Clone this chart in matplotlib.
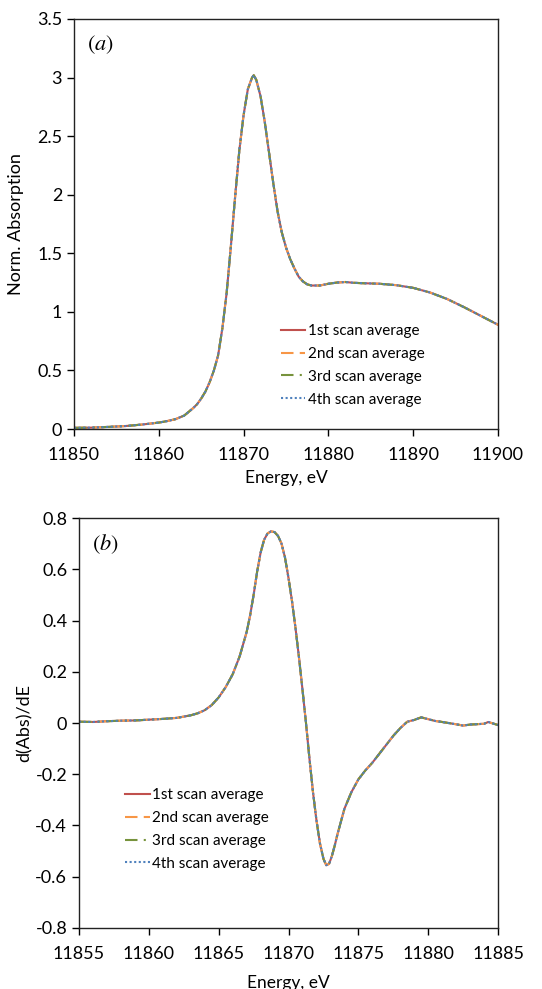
import matplotlib
matplotlib.use("Agg")
import matplotlib.pyplot as plt

plt.rcParams['font.family'] = ['Lato', 'DejaVu Sans']
plt.rcParams['mathtext.fontset'] = 'stix'

# ---- Panel (a): normalized absorption ----
energy_a = [11850, 11852, 11854, 11856, 11858, 11860, 11861, 11862, 11863, 11864,
            11864.5, 11865, 11865.5, 11866, 11866.5, 11867, 11867.5, 11868, 11868.5,
            11869, 11869.5, 11870, 11870.5, 11871, 11871.2, 11871.5, 11872, 11872.5,
            11873, 11873.5, 11874, 11874.5, 11875, 11875.5, 11876, 11876.5, 11877,
            11877.5, 11878, 11879, 11880, 11881, 11882, 11883, 11884, 11886, 11888,
            11890, 11892, 11894, 11896, 11898, 11900]
absorb = [0.01, 0.012, 0.018, 0.025, 0.038, 0.055, 0.068, 0.085, 0.115, 0.175,
          0.21, 0.26, 0.32, 0.40, 0.50, 0.63, 0.86, 1.16, 1.56,
          1.98, 2.38, 2.68, 2.90, 3.00, 3.02, 2.98, 2.84, 2.62,
          2.36, 2.10, 1.86, 1.68, 1.55, 1.45, 1.37, 1.30, 1.26,
          1.235, 1.225, 1.225, 1.24, 1.25, 1.255, 1.248, 1.245, 1.24, 1.228,
          1.205, 1.165, 1.11, 1.04, 0.965, 0.89]

# ---- Panel (b): first derivative ----
energy_b = [11855, 11856, 11857, 11858, 11859, 11860, 11861, 11862, 11863, 11863.5,
            11864, 11864.5, 11865, 11865.5, 11866, 11866.5, 11867, 11867.25, 11867.5,
            11867.75, 11868, 11868.25, 11868.5, 11868.75, 11869, 11869.25, 11869.5,
            11869.75, 11870, 11870.25, 11870.5, 11870.75, 11871, 11871.25, 11871.5,
            11871.75, 11872, 11872.25, 11872.5, 11872.7, 11872.9, 11873.1, 11873.3,
            11873.5, 11873.75, 11874, 11874.5, 11875, 11875.5, 11876, 11876.5, 11877,
            11877.5, 11878, 11878.5, 11879, 11879.5, 11880, 11880.5, 11881, 11882,
            11882.5, 11883, 11884, 11884.3, 11885]
deriv = [0.005, 0.004, 0.007, 0.009, 0.01, 0.013, 0.016, 0.02, 0.03, 0.038,
         0.05, 0.07, 0.1, 0.14, 0.19, 0.26, 0.355, 0.42, 0.5,
         0.59, 0.665, 0.715, 0.74, 0.748, 0.745, 0.73, 0.7,
         0.645, 0.565, 0.475, 0.37, 0.255, 0.13, 0.0, -0.14,
         -0.27, -0.38, -0.47, -0.53, -0.555, -0.55, -0.52, -0.48,
         -0.435, -0.385, -0.335, -0.27, -0.22, -0.185, -0.155, -0.12, -0.085,
         -0.05, -0.02, 0.005, 0.012, 0.022, 0.015, 0.008,
         0.004, -0.005, -0.01, -0.006, -0.003, 0.004, -0.008]

labels = ['1st scan average', '2nd scan average', '3rd scan average', '4th scan average']
colors = ['#C0504D', '#F79646', '#77933C', '#4F81BD']
styles = ['-', (0, (6, 3)), (0, (6, 3, 1, 3)), (0, (1, 1.2))]

fig = plt.figure(figsize=(5.42, 9.89), dpi=100)
ax1 = fig.add_axes([0.1365, 0.5662, 0.7823, 0.4146])
ax2 = fig.add_axes([0.1458, 0.0617, 0.7731, 0.4145])

for lab, c, ls in zip(labels, colors, styles):
    ax1.plot(energy_a, absorb, color=c, ls=ls, lw=1.5, label=lab)
    ax2.plot(energy_b, deriv, color=c, ls=ls, lw=1.5, label=lab)

ax1.set_xlim(11850, 11900)
ax1.set_ylim(0, 3.5)
ax1.set_xticks([11850, 11860, 11870, 11880, 11890, 11900])
ax1.set_yticks([0, 0.5, 1, 1.5, 2, 2.5, 3, 3.5])
ax1.set_yticklabels(['0', '0.5', '1', '1.5', '2', '2.5', '3', '3.5'])
ax1.set_xlabel('Energy, eV', fontsize=12.5, labelpad=5)
ax1.set_ylabel('Norm. Absorption', fontsize=13, labelpad=9)
ax1.text(0.03, 0.965, r'$(a)$', transform=ax1.transAxes, fontsize=16, va='top', ha='left')
ax1.legend(loc='upper left', bbox_to_anchor=(0.488, 0.256), frameon=False, fontsize=11,
           handlelength=1.6, handletextpad=0.15, labelspacing=0.58, borderaxespad=0,
           borderpad=0)

ax2.set_xlim(11855, 11885)
ax2.set_ylim(-0.8, 0.8)
ax2.set_xticks([11855, 11860, 11865, 11870, 11875, 11880, 11885])
ax2.set_yticks([-0.8, -0.6, -0.4, -0.2, 0, 0.2, 0.4, 0.6, 0.8])
ax2.set_yticklabels(['-0.8', '-0.6', '-0.4', '-0.2', '0', '0.2', '0.4', '0.6', '0.8'])
ax2.set_xlabel('Energy, eV', fontsize=12.5, labelpad=9)
ax2.set_ylabel('d(Abs)/dE', fontsize=13, labelpad=2)
ax2.text(0.03, 0.965, r'$(b)$', transform=ax2.transAxes, fontsize=16, va='top', ha='left')
ax2.legend(loc='upper left', bbox_to_anchor=(0.11, 0.341), frameon=False, fontsize=11,
           handlelength=1.6, handletextpad=0.15, labelspacing=0.58, borderaxespad=0,
           borderpad=0)

for ax in (ax1, ax2):
    ax.tick_params(axis='both', direction='out', length=5, width=1, labelsize=13,
                   top=False, right=False)
    ax.tick_params(axis='x', pad=8)
    for s in ax.spines.values():
        s.set_linewidth(1.0)
        s.set_color('#222222')

fig.savefig('out.png', dpi=100)
